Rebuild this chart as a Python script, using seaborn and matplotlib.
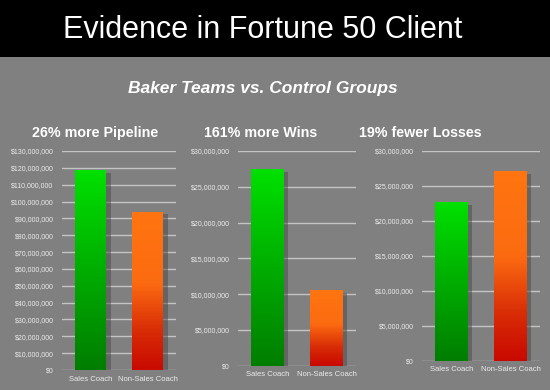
import numpy as np
import pandas as pd
import matplotlib
matplotlib.use("Agg")
import matplotlib.pyplot as plt
import matplotlib.patheffects as pe
from matplotlib.colors import LinearSegmentedColormap
from matplotlib.ticker import FuncFormatter, MultipleLocator
from matplotlib.patches import Rectangle
import seaborn as sns

# ---------------- data ----------------
groups = ["Sales Coach", "Non-Sales Coach"]
panel_titles = ["26% more Pipeline", "161% more Wins", "19% fewer Losses"]
pipeline = [118_700_000, 94_000_000]
wins = [27_500_000, 10_600_000]
losses = [22_650_000, 27_100_000]
panel_values = [pipeline, wins, losses]
y_max = [130_000_000, 30_000_000, 30_000_000]
y_step = [10_000_000, 5_000_000, 5_000_000]

# ---------------- style ----------------
sns.set_theme(style="white")
plt.rcParams["font.family"] = ["Liberation Sans", "DejaVu Sans"]

BG = "#808080"
GRID = "#c4c4c4"
TXT = "#ececec"

green_cmap = LinearSegmentedColormap.from_list(
    "g", [(0, "#007d00"), (0.5, "#00ad00"), (1, "#00e000")])
orange_cmap = LinearSegmentedColormap.from_list(
    "o", [(0, "#c80800"), (0.25, "#d82c06"), (0.55, "#fb6a10"), (1, "#ff7410")])
cmaps = [green_cmap, orange_cmap]
N_STRIPS = 120

fig = plt.figure(figsize=(5.5, 3.9), dpi=100, facecolor=BG)

# header band
fig.patches.append(Rectangle((0, 0.854), 1, 0.146, transform=fig.transFigure,
                             facecolor="black", edgecolor="none", zorder=0))
fig.text(0.478, 0.922, "Evidence in Fortune 50 Client", color="white",
         fontsize=22, ha="center", va="center")
fig.text(0.478, 0.774, "Baker Teams vs. Control Groups", color="white",
         fontsize=12.5, fontweight="bold", fontstyle="italic",
         ha="center", va="center")

axes_pos = [
    [0.1127, 0.0513, 0.2073, 0.5615],
    [0.4327, 0.0623, 0.2146, 0.5505],
    [0.7673, 0.0751, 0.2145, 0.5377],
]
title_x = [0.173, 0.473, 0.764]

money = FuncFormatter(lambda v, p: f"${v:,.0f}")

for i in range(3):
    ax = fig.add_axes(axes_pos[i])
    ax.set_facecolor(BG)
    df = pd.DataFrame({"group": groups, "value": panel_values[i]})
    sns.barplot(data=df, x="group", y="value", ax=ax, width=0.56,
                color="white", saturation=1, zorder=3)
    ax.set_xlim(-0.5, 1.5)
    ax.set_ylim(0, y_max[i])
    ax.yaxis.set_major_locator(MultipleLocator(y_step[i]))
    ax.yaxis.set_major_formatter(money)
    ax.set_axisbelow(True)
    ax.grid(axis="y", color=GRID, linewidth=1.0)
    for s in ax.spines.values():
        s.set_visible(False)
    ax.tick_params(axis="both", length=0, colors=TXT, labelsize=5)
    ax.tick_params(axis="y", pad=6)
    ax.tick_params(axis="x", pad=4, labelsize=5.5)
    ax.set_xlabel("")
    ax.set_ylabel("")

    # gradient fill (thin strips) + drop shadow on each bar
    for j, bar in enumerate(list(ax.patches)):
        x0, w, h = bar.get_x(), bar.get_width(), bar.get_height()
        bar.set_facecolor(cmaps[j](0.5))
        bar.set_edgecolor("none")
        bar.set_path_effects([pe.SimplePatchShadow(offset=(3, -2),
                                                   shadow_rgbFace="#4a4a4a",
                                                   alpha=0.5),
                              pe.Normal()])
        dh = h / N_STRIPS
        bottoms = np.arange(N_STRIPS) * dh
        colors = [cmaps[j]((k + 0.5) / N_STRIPS) for k in range(N_STRIPS)]
        ax.bar(np.full(N_STRIPS, x0 + w / 2), dh * 1.02, bottom=bottoms,
               width=w, color=colors, linewidth=0, antialiased=False,
               zorder=4)

    fig.text(title_x[i], 0.659, panel_titles[i], color="white", fontsize=10.3,
             fontweight="bold", ha="center", va="center")

fig.savefig("out.png", dpi=100, facecolor=BG)
